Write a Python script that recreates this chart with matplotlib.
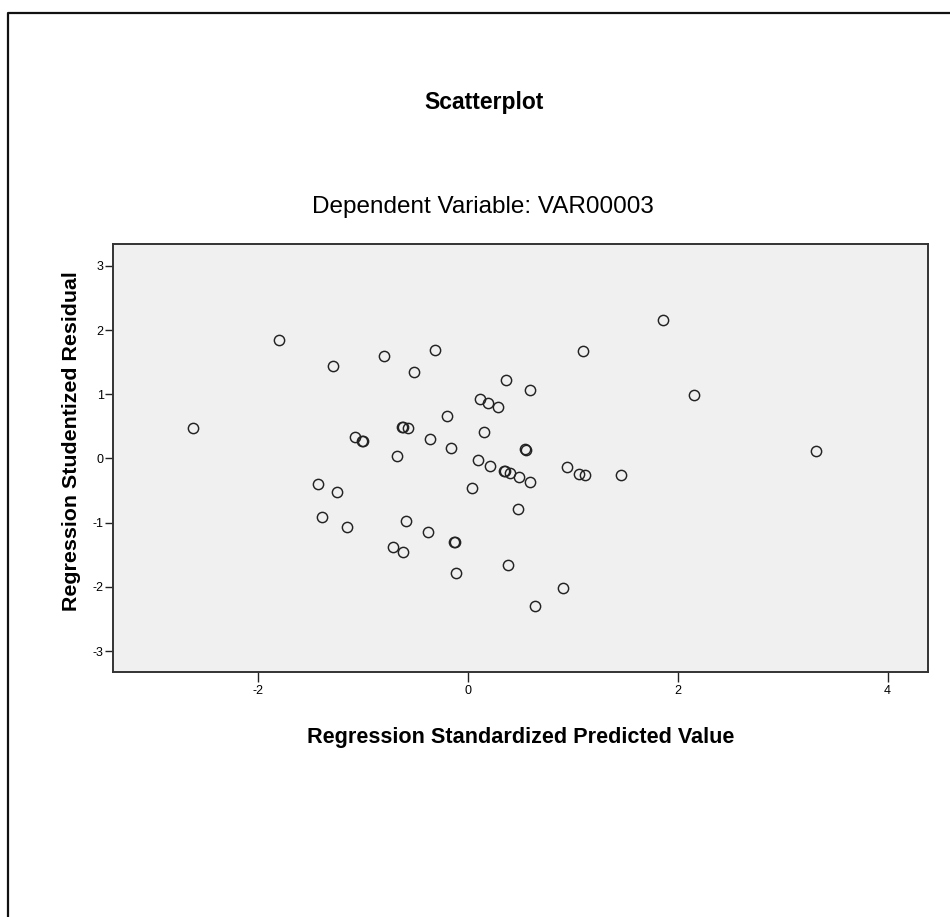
import matplotlib
matplotlib.use("Agg")
import matplotlib.pyplot as plt
from matplotlib.lines import Line2D

plt.rcParams['font.family'] = ['Liberation Sans', 'DejaVu Sans']
plt.rcParams['axes.unicode_minus'] = False

# Regression standardized predicted value (x) vs studentized residual (y)
pred_value = [-2.62, -1.80, -1.29, -0.80, -0.31, -0.51, 0.36, 0.11, 0.19, 0.29,
              -0.20, 0.15, -0.63, -0.62, -0.57, -1.08, -1.01, -1.00, -0.36, -0.16,
              -0.68, 0.10, 1.86, 1.10, 0.59, 2.15, 0.54, 0.55, 3.32, 0.21,
              0.34, 0.35, 0.40, 0.49, 0.04, 0.48, 0.38, -1.43, -1.25, -1.39,
              -1.15, -0.59, -0.38, -0.13, -0.12, -0.71, -0.62, -0.11, 0.59, 0.94,
              1.06, 1.12, 1.46, 0.91, 0.64]
stud_resid = [0.48, 1.84, 1.44, 1.60, 1.69, 1.35, 1.23, 0.92, 0.86, 0.80,
              0.66, 0.42, 0.49, 0.49, 0.47, 0.33, 0.28, 0.27, 0.30, 0.16,
              0.04, -0.03, 2.15, 1.67, 1.07, 0.99, 0.15, 0.14, 0.12, -0.11,
              -0.20, -0.20, -0.23, -0.29, -0.46, -0.79, -1.66, -0.39, -0.52, -0.91,
              -1.07, -0.97, -1.14, -1.30, -1.30, -1.38, -1.46, -1.78, -0.37, -0.13,
              -0.24, -0.26, -0.26, -2.02, -2.30]

x_ticks = [-2, 0, 2, 4]
y_ticks = [-3, -2, -1, 0, 1, 2, 3]

W, H = 950, 917
fig = plt.figure(figsize=(W / 100, H / 100), dpi=100)
fig.patch.set_facecolor('white')

# outer frame (only top and left edges visible)
fig.add_artist(Line2D([7.5 / W, 7.5 / W, 1.0], [0.0, 1 - 13 / H, 1 - 13 / H],
                      transform=fig.transFigure, color='#111111', lw=1.6))

ax_l, ax_r, ax_t, ax_b = 113.3, 928.3, 244.3, 672.3
ax = fig.add_axes([ax_l / W, 1 - ax_b / H, (ax_r - ax_l) / W, (ax_b - ax_t) / H])
ax.set_facecolor('#F0F0F0')

ax.plot(pred_value, stud_resid, linestyle='none', marker='o', markersize=7.4,
        markerfacecolor='none', markeredgecolor='#222222', markeredgewidth=1.05)

ax.set_xlim(-3.381, 4.388)
ax.set_ylim(-3.33, 3.336)
ax.set_xticks(x_ticks)
ax.set_yticks(y_ticks)
ax.tick_params(direction='out', width=1.0, color='#222222', labelsize=9)
ax.tick_params(axis='x', length=7, pad=2.5)
ax.tick_params(axis='y', length=5.5, pad=1.5)
for s in ax.spines.values():
    s.set_color('#333333')
    s.set_linewidth(1.4)

fig.text(484 / W, 1 - 103 / H, 'Scatterplot', ha='center', va='center',
         fontsize=16.5, fontweight='bold')
fig.text(483 / W, 1 - 207 / H, 'Dependent Variable: VAR00003', ha='center',
         va='center', fontsize=17.5)
fig.text(520.5 / W, 1 - 738 / H, 'Regression Standardized Predicted Value',
         ha='center', va='center', fontsize=15.6, fontweight='bold')
fig.text(71.7 / W, 1 - 441.5 / H, 'Regression Studentized Residual',
         ha='center', va='center', rotation=90, fontsize=15.4, fontweight='bold')

fig.savefig('out.png', dpi=100)
